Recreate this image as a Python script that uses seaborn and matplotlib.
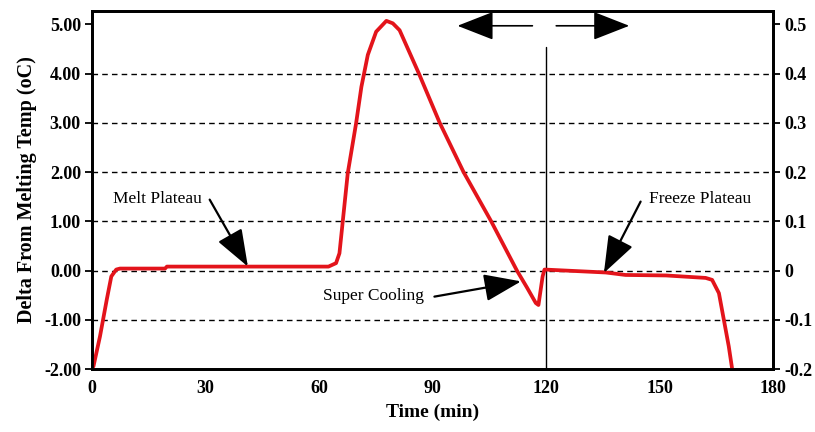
import numpy as np
import pandas as pd
import matplotlib
matplotlib.use('Agg')
import matplotlib.pyplot as plt
import seaborn as sns

# curve
time_min = [0, 0.4, 2.1, 3.9, 5.1, 6.4, 7.4, 19.3, 19.8, 62.5, 64.5, 65.4, 67.6, 69.8, 71.2,
            72.9, 75.1, 77.8, 79.5, 81.3, 86.4, 91.9, 98.2, 105.5, 112.3, 115.0, 117.3,
            118.0, 119.1, 119.6, 125.0, 135.8, 141.0, 151.7, 162.2, 163.9, 165.7, 167.0,
            168.3, 169.2]
delta = [-2.0, -1.94, -1.34, -0.59, -0.12, 0.02, 0.04, 0.04, 0.08, 0.08, 0.15, 0.35, 1.98,
         2.99, 3.73, 4.38, 4.85, 5.07, 5.02, 4.88, 4.0, 3.0, 2.0, 1.0, 0.0, -0.35, -0.66,
         -0.7, -0.12, 0.02, 0.0, -0.04, -0.09, -0.1, -0.15, -0.19, -0.46, -1.0, -1.54, -2.0]

left_ticks = [5, 4, 3, 2, 1, 0, -1, -2]
left_labels = ['5.00', '4.00', '3.00', '2.00', '1.00', '0.00', '-1.00', '-2.00']
right_ticks = [0.5, 0.4, 0.3, 0.2, 0.1, 0, -0.1, -0.2]
right_labels = ['0.5', '0.4', '0.3', '0.2', '0.1', '0', '-0.1', '-0.2']
x_ticks = [0, 30, 60, 90, 120, 150, 180]
grid_levels = [4, 3, 2, 1, 0, -1]

df = pd.DataFrame({'Time': time_min, 'Delta': delta})

sns.set_style('white')
plt.rcParams['font.family'] = ['Liberation Serif', 'DejaVu Serif']
plt.rcParams['text.color'] = 'black'
plt.rcParams['axes.labelcolor'] = 'black'
plt.rcParams['xtick.color'] = 'black'
plt.rcParams['ytick.color'] = 'black'

fig = plt.figure(figsize=(8.15, 4.32), dpi=100)
ax = fig.add_axes([0.1129, 0.1458, 0.8356, 0.8287])

for g in grid_levels:
    ax.axhline(g, color='black', lw=1.0, ls=(0, (4, 3)), zorder=1)

sns.lineplot(data=df, x='Time', y='Delta', ax=ax, color='#e3141b', lw=2.7, zorder=3)

ax.set_xlim(0, 180)
ax.set_ylim(-2, 5.27)
ax.set_xticks(x_ticks)
ax.set_xticklabels([str(t) for t in x_ticks], fontweight='bold', fontsize=13)
ax.set_yticks(left_ticks)
ax.set_yticklabels(left_labels, fontweight='bold', fontsize=13)
ax.tick_params(axis='both', direction='out', length=5, width=1.3, pad=3)
ax.set_xlabel('Time (min)', fontweight='bold', fontsize=14, labelpad=5)
ax.set_ylabel('Delta From Melting Temp (oC)', fontweight='bold', fontsize=14.5, labelpad=5)

ax2 = ax.twinx()
ax2.set_ylim(-0.2, 0.527)
ax2.set_yticks(right_ticks)
ax2.set_yticklabels(right_labels, fontweight='bold', fontsize=13)
ax2.tick_params(axis='y', direction='out', length=5, width=1.3, pad=3)
ax2.grid(False)

for a in (ax, ax2):
    for s in a.spines.values():
        s.set_color('black')
        s.set_linewidth(2.0)

# divider between melt and freeze
ax.plot([120, 120], [4.54, -2], color='black', lw=1.0, zorder=2)

big_head = dict(arrowstyle='-|>,head_length=2.3,head_width=0.9', color='black', lw=1.2,
                shrinkA=0, shrinkB=0, mutation_scale=10)
ax.annotate('', xy=(96.6, 4.97), xytext=(116.4, 4.97), arrowprops=big_head)
ax.annotate('', xy=(142.0, 4.97), xytext=(122.7, 4.97), arrowprops=big_head)

small_head = dict(arrowstyle='-|>,head_length=2.3,head_width=0.85', color='black', lw=1.6,
                  shrinkA=0, shrinkB=0, mutation_scale=10)
ax.text(5.5, 1.46, 'Melt Plateau', fontsize=12.5, va='center', ha='left')
ax.annotate('', xy=(41.2, 0.08), xytext=(31.1, 1.44), arrowprops=small_head)

ax.text(61.0, -0.52, 'Super Cooling', fontsize=12.5, va='center', ha='left')
ax.annotate('', xy=(113.4, -0.22), xytext=(90.5, -0.53), arrowprops=small_head)

ax.text(147.2, 1.46, 'Freeze Plateau', fontsize=12.5, va='center', ha='left')
ax.annotate('', xy=(135.3, -0.05), xytext=(145.0, 1.40), arrowprops=small_head)

fig.savefig('out.png', dpi=100)
